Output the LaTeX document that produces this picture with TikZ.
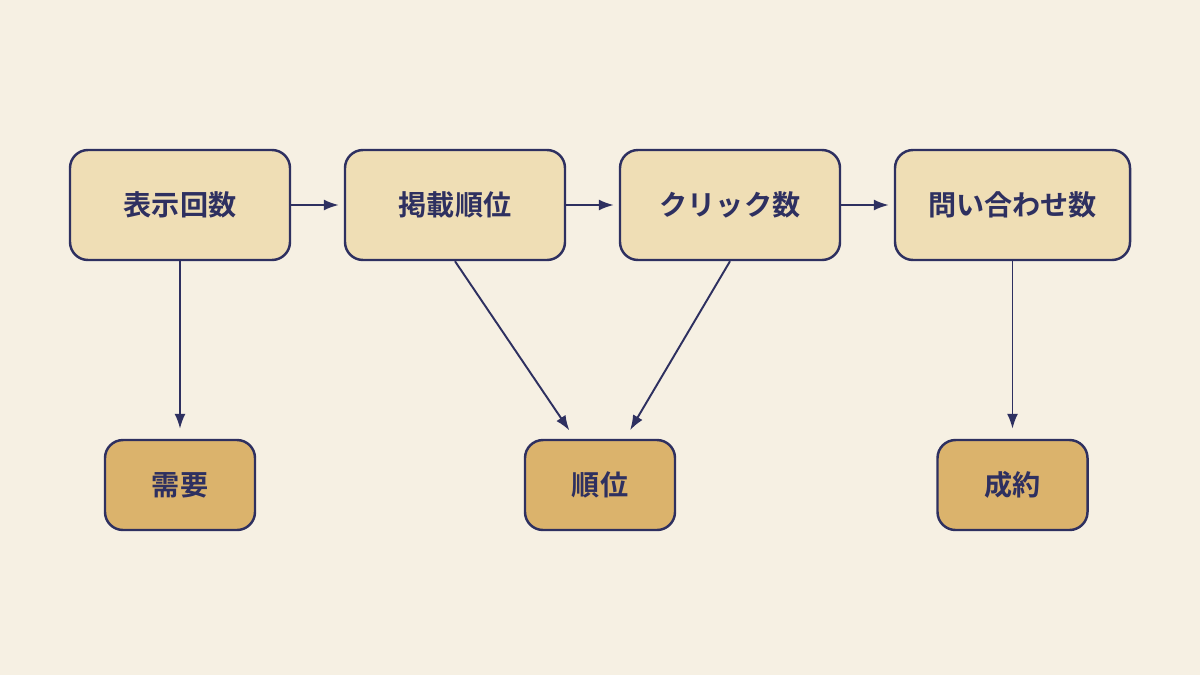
\documentclass[tikz,border=0pt]{standalone}
\usepackage{fontspec}
\newfontfamily\cjk{Noto Sans CJK JP}[BoldFont={Noto Sans CJK JP Bold}]
\usetikzlibrary{arrows.meta}
\definecolor{bgc}{HTML}{F6F0E3}
\definecolor{topc}{HTML}{EFDEB5}
\definecolor{botc}{HTML}{DBB36C}
\definecolor{linec}{HTML}{2E3060}
\tikzset{
  box/.style={draw=linec,line width=1.4pt,rounded corners=0.36cm,text=linec,
    font=\cjk\bfseries\fontsize{16}{18}\selectfont,inner sep=0pt},
  upper/.style={box,fill=topc,minimum height=2.2cm},
  lower/.style={box,fill=botc,minimum width=3cm,minimum height=1.8cm},
  link/.style={draw=linec,line width=1.1pt,-{Latex[length=0.3cm,width=0.22cm]}}
}
\begin{document}
\begin{tikzpicture}[y=-1cm]
\fill[bgc] (0,0) rectangle (24,13.5);
\node[upper,minimum width=4.4cm] (disp) at (3.6,4.1) {表示回数};%impressions
\node[upper,minimum width=4.4cm] (rank) at (9.1,4.1) {掲載順位};
\node[upper,minimum width=4.4cm] (click) at (14.6,4.1) {クリック数};
\node[upper,minimum width=4.7cm] (inq) at (20.25,4.1) {問い合わせ数};
\node[lower] (demand) at (3.6,9.7) {需要};
\node[lower] (order) at (12,9.7) {順位};
\node[lower] (deal) at (20.25,9.7) {成約};

\draw[link,shorten >=0.1cm] (disp) -- (rank);
\draw[link,shorten >=0.1cm] (rank) -- (click);
\draw[link,shorten >=0.1cm] (click) -- (inq);
\draw[link,shorten >=0.2cm] (disp) -- (demand);
\draw[link,shorten >=0.2cm] (inq) -- (deal);
\draw[link,shorten >=0.2cm] (rank.south) -- ([xshift=-0.5cm]order.north);
\draw[link,shorten >=0.2cm] (click.south) -- ([xshift=0.5cm]order.north);
\end{tikzpicture}
\end{document}
